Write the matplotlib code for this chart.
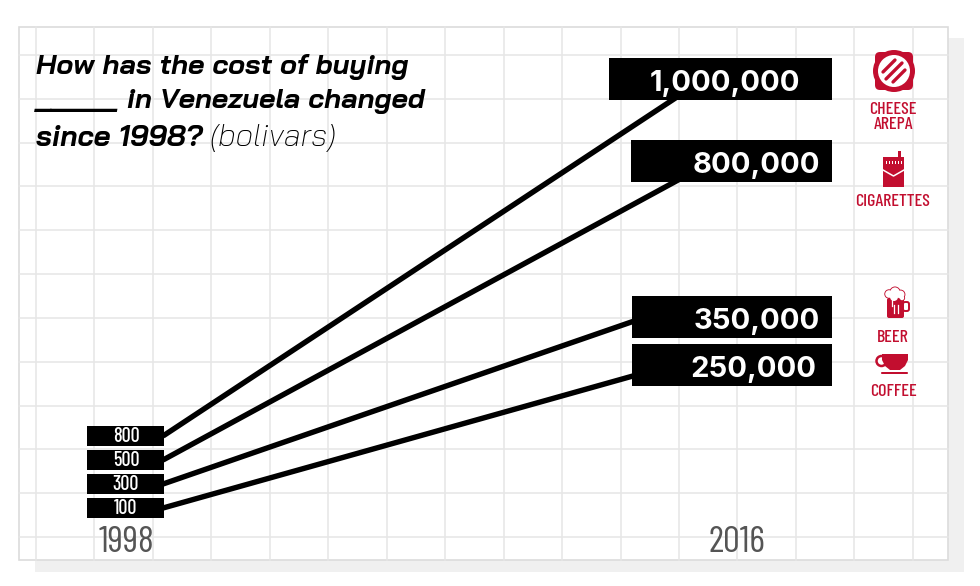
import matplotlib
matplotlib.use('Agg')
import matplotlib.pyplot as plt
from matplotlib.patches import Rectangle, Circle, FancyBboxPatch, Polygon

# values
items = ['CHEESE\nAREPA', 'CIGARETTES', 'BEER', 'COFFEE']
cost_1998 = [800, 500, 300, 100]
cost_2016 = [1000000, 800000, 350000, 250000]
years = [1998, 2016]

RED = '#c20e2f'
GRID = '#e6e6e6'
TITLE_FONT = ['Bai Jamjuree', 'Roboto']
NARROW_FONT = ['Barlow Condensed', 'Roboto']
NUM_FONT = ['Inter', 'Roboto']

# layout in pixels of the 980x586 picture
grid_x = [36 + 58.45 * i for i in range(16)]
grid_y = [55 + 43.82 * i for i in range(12)]
left_y = [436, 460, 484, 508]
right_y = [79, 161, 317, 365]
line_end_x = [680, 680, 640, 640]
line_end_y = [95, 179, 319, 374]
right_l = [609, 631, 632, 632]
text_r = [800, 820, 820, 816]
label_y = [117, 201, 337, 391]

fig = plt.figure(figsize=(9.8, 5.86), dpi=100)
bg = fig.add_axes([0, 0, 1, 1])
bg.set_xlim(0, 980)
bg.set_ylim(586, 0)
bg.axis('off')

# shadow, card and grid
bg.add_patch(Rectangle((35, 38), 929, 534, fc='#f0f0f0', ec='none', zorder=0))
bg.add_patch(Rectangle((19, 27), 929, 533, fc='white', ec='#dcdcdc', lw=1.2, zorder=1))
for x in grid_x:
    bg.plot([x, x], [27, 560], color=GRID, lw=1.1, zorder=2)
for y in grid_y:
    bg.plot([19, 948], [y, y], color=GRID, lw=1.1, zorder=2)

# chart axes: x in years, y in picture pixels
ax = fig.add_axes([0, 0, 1, 1])
ax.patch.set_alpha(0)
ax.axis('off')
px_per_year = (735 - 125) / (years[1] - years[0])
ax.set_xlim(years[0] - 125 / px_per_year, years[0] + (980 - 125) / px_per_year)
ax.set_ylim(586, 0)


def to_year(px):
    return years[0] + (px - 125) / px_per_year


for i in range(4):
    ax.plot([to_year(163), to_year(line_end_x[i])], [left_y[i], line_end_y[i]], color='black', lw=3.9, solid_capstyle='butt', zorder=3)
    ax.add_patch(Rectangle((to_year(87), left_y[i] - 10), to_year(164) - to_year(87), 20, fc='black', ec='none', zorder=4))
    ax.text(to_year(126), left_y[i] + 0.5, f'{cost_1998[i]}', color='white', ha='center', va='center', fontsize=14.5, family=NARROW_FONT, weight='medium', zorder=5)
    ax.add_patch(Rectangle((to_year(right_l[i]), right_y[i] - 21), to_year(832) - to_year(right_l[i]), 42, fc='black', ec='none', zorder=4))
    ax.text(to_year(text_r[i]), right_y[i] + 12, f'{cost_2016[i]:,}', color='white', ha='right', va='baseline', fontsize=21, family=NUM_FONT, weight='bold', zorder=5)

for yr in years:
    ax.text(yr + 0.05, 552, str(yr), color='#555555', ha='center', va='baseline', fontsize=27, family=NARROW_FONT)

# title
bg.text(36, 74, 'How has the cost of buying', fontsize=20.3, family=TITLE_FONT, weight='bold', style='italic', va='baseline', zorder=6)
bg.text(36, 108, '_____ in Venezuela changed', fontsize=20.3, family=TITLE_FONT, weight='bold', style='italic', va='baseline', zorder=6)
bg.text(36, 146, 'since 1998?', fontsize=20.8, family=TITLE_FONT, weight='bold', style='italic', va='baseline', zorder=6)
bg.text(209, 146, '(bolivars)', fontsize=22.5, family=TITLE_FONT, weight='light', style='italic', va='baseline', zorder=6)

# item labels
for i in range(4):
    bg.text(893, label_y[i], items[i], color=RED, ha='center', va='center', fontsize=12.9, family=NARROW_FONT, weight='medium', linespacing=1.08, zorder=6)

# arepa icon
bg.add_patch(FancyBboxPatch((875, 52), 38, 38, boxstyle='round,pad=0,rounding_size=5', fc=RED, ec='none', zorder=6))
bg.add_patch(Circle((894, 71), 21, fc=RED, ec='none', zorder=6))
bg.add_patch(Circle((894, 71), 16, fc='white', ec='none', zorder=7))
for dx, dy, half in [(-5, -5, 6), (0, 0, 8), (5, 5, 6)]:
    bg.plot([894 + dx - half, 894 + dx + half], [71 + dy + half, 71 + dy - half], color=RED, lw=2.4, solid_capstyle='round', zorder=8)

# cigarette pack icon
bg.add_patch(Rectangle((883, 157), 21, 30, fc=RED, ec='none', zorder=6))
bg.add_patch(Rectangle((898, 151), 2.5, 7, fc=RED, ec='none', zorder=6))
for x in [885.5, 888.5, 891.5, 894.5, 897.5, 901]:
    bg.add_patch(Rectangle((x, 161), 1.3, 3, fc='white', ec='none', zorder=7))
bg.plot([883, 893.5, 904], [170, 176, 170], color='white', lw=1.1, zorder=7)

# beer icon
foam = [(889, 294, 3.8), (895, 292, 4.6), (900.5, 294.5, 4), (894, 297, 4), (902, 298, 2.2)]
bg.add_patch(FancyBboxPatch((887, 298), 17, 20, boxstyle='round,pad=0,rounding_size=2', fc=RED, ec='none', zorder=6))
bg.add_patch(FancyBboxPatch((903, 302), 6, 9, boxstyle='round,pad=0,rounding_size=2', fc='white', ec=RED, lw=1.4, zorder=5.5))
for cx, cy, r in foam:
    bg.add_patch(Circle((cx, cy), r + 0.9, fc=RED, ec='none', zorder=6.5))
for cx, cy, r in foam:
    bg.add_patch(Circle((cx, cy), r, fc='white', ec='none', zorder=7))
for x, y0, y1 in [(892, 298, 306), (898, 305, 313), (894, 305, 313)]:
    bg.plot([x, x], [y0, y1], color='white', lw=0.9, zorder=7)

# coffee icon
bg.add_patch(Circle((881.5, 361), 5, fc='white', ec=RED, lw=1.8, zorder=5.5))
bg.add_patch(Polygon([(882, 354), (908, 354), (908, 360), (905, 366), (900, 370), (890, 370), (885, 366), (882, 360)], fc=RED, ec='none', zorder=6))
bg.add_patch(FancyBboxPatch((881, 372), 27, 2, boxstyle='round,pad=0,rounding_size=1', fc=RED, ec='none', zorder=6))

fig.savefig('out.png', dpi=100)
